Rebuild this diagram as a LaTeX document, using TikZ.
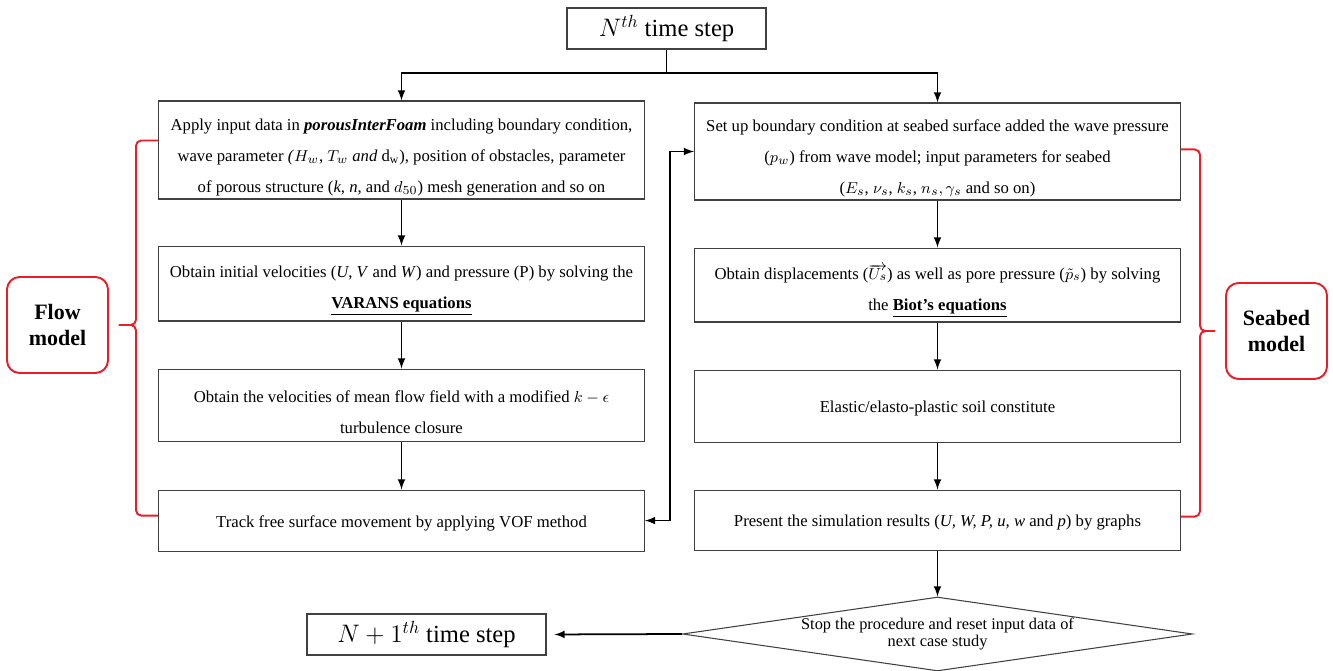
\documentclass[tikz,border=0pt]{standalone}
\usepackage{fontspec}
\setmainfont{Liberation Serif}
\usetikzlibrary{arrows, positioning, shapes.geometric, calc}
\definecolor{bracered}{RGB}{232,30,40}
\newcommand{\topgap}{\rule{0pt}{15pt}}
\tikzset{%
  procbox/.style={draw=black!75, line width=0.6pt, minimum width=9.72cm,
    align=center, inner sep=0pt, font=\fontsize{9.5}{17.6}\selectfont,
    execute at begin node={\rule{0pt}{9.5pt}}},
  timebox/.style={draw=black!75, line width=0.6pt, minimum height=0.82cm, inner sep=0pt,
    font=\fontsize{14}{16}\selectfont},
  decision/.style={draw=black!75, line width=0.6pt, diamond, aspect=6.9, minimum width=10.2cm,
    minimum height=1.48cm, inner sep=0pt, align=center, font=\fontsize{9.3}{10}\selectfont},
  model/.style={draw=bracered, line width=1.1pt, rounded corners=0.25cm, minimum width=2.02cm,
    minimum height=1.92cm, align=center, font=\fontsize{12.5}{14.8}\selectfont\bfseries},
  bracket/.style={draw=bracered, line width=1.1pt, rounded corners=3pt},
  edge/.style={line width=1pt},
  move/.style={-latex, line width=1pt},
  dmove/.style={latex-latex, line width=1pt}
}

\begin{document}
\begin{tikzpicture}[x=0.02cm, y=-0.02cm]
  \useasboundingbox (0,0) rectangle (1333,671);

  \node[timebox, minimum width=3.98cm] (nth) at (666.5,28.5) {$N^{th}$ time step};

  \node[procbox, minimum height=1.96cm] (flow1) at (401.5,150) {\topgap Apply input data in \textbf{\textit{porousInterFoam}} including boundary condition,\\ wave parameter \textit{(}$H_w$, $T_w$ \textit{and} d$_{\mathrm{w}}$), position of obstacles, parameter\\ of porous structure (\textit{k}, \textit{n}, and $d_{50}$) mesh generation and so on};
  \node[procbox, minimum height=1.5cm] (flow2) [below = 0.92cm of flow1] {\topgap Obtain initial velocities (\textit{U}, \textit{V} and \textit{W}) and pressure (P) by solving the\\ \underline{\textbf{VARANS equations}}};
  \node[procbox, minimum height=1.44cm] (flow3) [below = 0.94cm of flow2] {\topgap Obtain the velocities of mean flow field with a modified $k-\epsilon$\\ turbulence closure};
  \node[procbox, minimum height=1.22cm] (flow4) [below = 0.96cm of flow3] {Track free surface movement by applying VOF method};

  \node[procbox, minimum height=1.94cm] (bed1) at (937.5,151.5) {\topgap Set up boundary condition at seabed surface added the wave pressure\\ ($p_w$) from wave model; input parameters for seabed\\ ($E_s$, $\nu_s$, $k_s$, $n_s, \gamma_s$ and so on)};
  \node[procbox, minimum height=1.48cm] (bed2) [below = 0.94cm of bed1] {\topgap Obtain displacements ($\overrightarrow{U_s}$) as well as pore pressure ($\tilde{p}_s$) by solving\\ the \underline{\textbf{Biot’s equations}}};
  \node[procbox, minimum height=1.44cm] (bed3) [below = 0.94cm of bed2] {Elastic/elasto-plastic soil constitute};
  \node[procbox, minimum height=1.2cm] (bed4) [below = 0.94cm of bed3] {Present the simulation results (\textit{U, W, P, u, w} and \textit{p}) by graphs};

  \node[decision] (stop) at (937.5,634) {Stop the procedure and reset input data of\\ next case study};
  \node[timebox, minimum width=4.78cm] (next) at (426.5,634.5) {$N+1^{th}$ time step};

  \node[model] (flowlabel) at (57.5,325) {Flow\\model};
  \node[model] (bedlabel) at (1276.5,331) {Seabed\\model};

  \coordinate (split) at (666.5,73);
  \draw[edge] (nth) -- (split);
  \draw[move] (split) -| (flow1.north);
  \draw[move] (split) -| (bed1.north);

  \draw[move] (flow1) -- (flow2);
  \draw[move] (flow2) -- (flow3);
  \draw[move] (flow3) -- (flow4);
  \draw[move] (bed1) -- (bed2);
  \draw[move] (bed2) -- (bed3);
  \draw[move] (bed3) -- (bed4);
  \draw[move] (bed4) -- (stop);
  \draw[move, shorten >=0.16cm] (stop.west) -- (next.east);
  \draw[dmove] (flow4.east) -- ++(25,0) |- (bed1.west);

  \draw[bracket] ([yshift=-0.8cm]flow1.north west) -- ++(-22,0) |- ([xshift=0.2cm]flowlabel.east);
  \draw[bracket] ([yshift=0.72cm]flow4.south west) -- ++(-22,0) |- ([xshift=0.2cm]flowlabel.east);
  \draw[bracket] ([yshift=-0.94cm]bed1.north east) -- ++(19,0) |- ([xshift=-0.2cm]bedlabel.west);
  \draw[bracket] ([yshift=0.68cm]bed4.south east) -- ++(19,0) |- ([xshift=-0.2cm]bedlabel.west);
\end{tikzpicture}
\end{document}
